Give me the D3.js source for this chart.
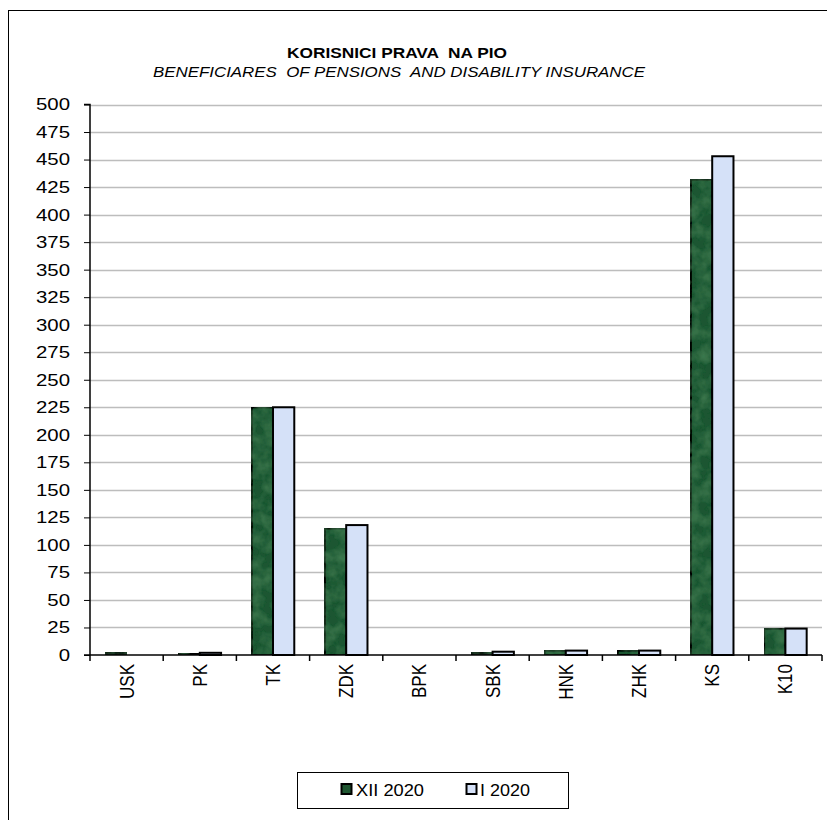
<!DOCTYPE html>
<html><head><meta charset="utf-8">
<script src="https://cdn.jsdelivr.net/npm/d3@7"></script>
<style>body{margin:0;background:#fff}svg{display:block}text{font-family:Arial,"Liberation Sans",sans-serif;white-space:pre}</style>
</head><body><svg id="c" width="827" height="820"></svg>
<script>
const categories = ["USK","PK","TK","ZDK","BPK","SBK","HNK","ZHK","KS","K10"];
const seriesNames = ["XII 2020","I 2020"];
const xii2020 = [2,1,225,115,0,2,4,4,432,24];
const i2020 = [0,2,225,118,0,3,4,4,453,24];
const yTicks = d3.range(0,501,25);
const title = "KORISNICI PRAVA  NA PIO";
const subtitle = "BENEFICIARES  OF PENSIONS  AND DISABILITY INSURANCE";

const svg = d3.select("#c");
const colors = ["#1f5631","#d5e1f8"];
const m = {l:90, r:822, t:104.5, b:655};
const SX = 1.2;

svg.append("rect").attr("x",8.5).attr("y",10.5).attr("width",830).attr("height",820)
  .attr("fill","none").attr("stroke","#000");

const x = d3.scaleBand().domain(categories).range([m.l,m.r]).paddingInner(0).paddingOuter(0);
const x1 = d3.scaleBand().domain(seriesNames).range([0,x.bandwidth()]).paddingInner(0).paddingOuter(0.72);
const y = d3.scaleLinear().domain([0,500]).range([m.b,m.t]);

// grid
svg.append("g").selectAll("line").data(yTicks.slice(1)).join("line")
  .attr("x1",m.l).attr("x2",m.r).attr("y1",d=>Math.round(y(d))+0.5).attr("y2",d=>Math.round(y(d))+0.5)
  .attr("stroke","#bdbdbd").attr("stroke-width",1.5);

// defs: texture
const defs = svg.append("defs");
const f = defs.append("filter").attr("id","tex").attr("x","0").attr("y","0").attr("width","1").attr("height","1");
f.append("feTurbulence").attr("type","fractalNoise").attr("baseFrequency","0.08").attr("numOctaves",3).attr("seed",3).attr("result","n");
f.append("feColorMatrix").attr("in","n").attr("type","matrix")
  .attr("values","0 0 0 0 0.1  0 0 0 0 0.35  0 0 0 0 0.15  0 0 0 0.6 -0.2").attr("result","a");
f.append("feComposite").attr("in","a").attr("in2","SourceGraphic").attr("operator","in").attr("result","b");
f.append("feMerge").selectAll("feMergeNode").data(["SourceGraphic","b"]).join("feMergeNode").attr("in",d=>d);

const series = [xii2020,i2020];
const g = svg.append("g");
categories.forEach((c,i)=>{
  series.forEach((s,j)=>{
    const v = s[i];
    if (v<=0) return;
    g.append("rect")
      .attr("x",x(c)+x1(seriesNames[j]))
      .attr("y",y(v))
      .attr("width",x1.bandwidth())
      .attr("height",Math.max(0,y(0)-y(v)))
      .attr("fill",colors[j])
      .attr("filter", j===0 ? "url(#tex)" : null)
      .attr("stroke","#000").attr("stroke-width",2);
  });
});

// y axis
const ya = svg.append("g").attr("transform",`translate(${m.l},0)`)
  .call(d3.axisLeft(y).tickValues(yTicks).tickSize(6).tickFormat(d3.format("d")));
ya.select(".domain").attr("stroke","#000").attr("stroke-width",1.5).attr("d",`M-6,${m.t}H0V${m.b}`);
ya.selectAll(".tick line").attr("stroke","#000");
ya.selectAll("text").attr("x",0).attr("transform",`translate(-20,0) scale(${SX},1)`)
  .attr("font-size",17).attr("font-family","Arial,'Liberation Sans',sans-serif").attr("fill","#000");

// x axis
const xa = svg.append("g").attr("transform",`translate(0,${m.b})`)
  .call(d3.axisBottom(x).tickSize(0));
xa.select(".domain").attr("stroke","#000").attr("stroke-width",1.5).attr("d",`M${m.l-6},0H${m.r}`);
xa.selectAll(".tick text").remove();
const bx = categories.map(c=>x(c)).concat([m.r]);
xa.selectAll(".bt").data(bx).join("line").attr("class","bt")
  .attr("x1",d=>d).attr("x2",d=>d).attr("y1",0).attr("y2",6).attr("stroke","#000").attr("stroke-width",1.5);
xa.selectAll(".xl").data(categories).join("text").attr("class","xl")
  .attr("transform",d=>`translate(${x(d)+x.bandwidth()/2+7},9) scale(${SX},1) rotate(-90)`)
  .attr("text-anchor","end").attr("font-size",17).attr("fill","#000").text(d=>d);

// titles
svg.append("text").attr("x",397).attr("y",57.5).attr("text-anchor","middle")
  .attr("font-size",14).attr("font-weight","bold").attr("fill","#000")
  .attr("textLength",220).attr("lengthAdjust","spacingAndGlyphs").text(title);
svg.append("text").attr("x",399).attr("y",76.5).attr("text-anchor","middle")
  .attr("font-size",15).attr("font-style","italic").attr("fill","#000")
  .attr("textLength",492).attr("lengthAdjust","spacingAndGlyphs").text(subtitle);

// legend
const lg = svg.append("g");
lg.append("rect").attr("x",297.5).attr("y",772.5).attr("width",271).attr("height",36)
  .attr("fill","#fff").attr("stroke","#000");
const litems = [{n:seriesNames[0],sx:341,tx:356,w:68},{n:seriesNames[1],sx:466,tx:480,w:50}];
litems.forEach((it,j)=>{
  lg.append("rect").attr("x",it.sx+0.5).attr("y",784).attr("width",10).attr("height",10)
    .attr("fill",colors[j]).attr("stroke","#000").attr("stroke-width",2);
  lg.append("text").attr("x",it.tx).attr("y",796).attr("font-size",17).attr("fill","#000")
    .attr("textLength",it.w).attr("lengthAdjust","spacingAndGlyphs").text(it.n);
});
</script></body></html>
